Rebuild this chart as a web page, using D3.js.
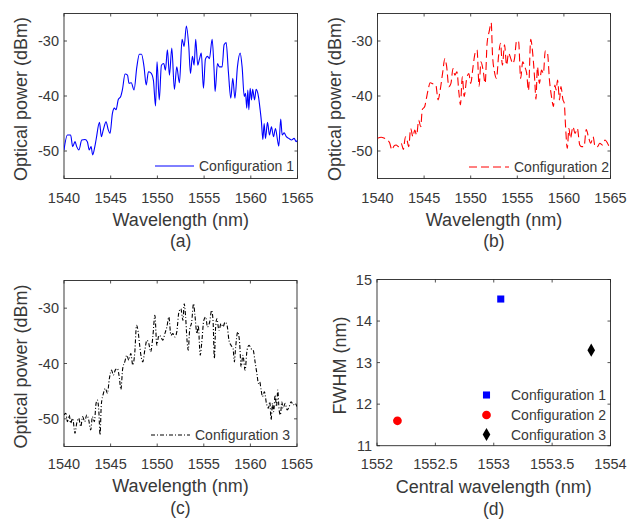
<!DOCTYPE html>
<html>
<head>
<meta charset="utf-8">
<script src="https://cdn.jsdelivr.net/npm/d3@7"></script>
<style>
  body { margin: 0; background: #fff; }
  svg { display: block; font-family: "Liberation Sans", Arial, sans-serif; }
  .lbl { fill: #383838; }
</style>
</head>
<body>
<svg width="628" height="519"></svg>
<script>
// spectra (wavelength nm, power dBm)
const spec1Wl = [1540.0,1540.36,1540.71,1540.93,1541.18,1541.36,1541.6,1541.9,1542.25,1542.5,1542.7,1542.9,1543.07,1543.3,1543.43,1543.8,1544.0,1544.2,1544.5,1544.75,1544.93,1545.18,1545.4,1545.57,1545.82,1546.07,1546.25,1546.54,1546.8,1546.96,1547.2,1547.5,1547.8,1548.07,1548.3,1548.57,1548.8,1549.04,1549.3,1549.57,1549.8,1549.96,1550.2,1550.43,1550.68,1550.86,1551.07,1551.29,1551.54,1551.82,1552.07,1552.36,1552.64,1552.86,1553.1,1553.36,1553.54,1553.75,1553.93,1554.1,1554.32,1554.5,1554.7,1554.93,1555.14,1555.36,1555.57,1555.86,1556.07,1556.18,1556.43,1556.64,1556.93,1557.14,1557.36,1557.6,1557.86,1558.07,1558.3,1558.57,1558.86,1559.07,1559.3,1559.43,1559.57,1559.68,1559.79,1559.93,1560.07,1560.2,1560.4,1560.57,1560.82,1561.0,1561.14,1561.29,1561.43,1561.57,1561.79,1562.0,1562.21,1562.43,1562.64,1562.86,1563.0,1563.2,1563.36,1563.57,1563.8,1564.07,1564.36,1564.64,1564.86,1565.0];
const spec1Power = [-49.8,-47.1,-47.1,-49.2,-48.3,-49.2,-49.8,-48.0,-47.9,-48.3,-49.8,-49.2,-50.7,-49.2,-48.0,-44.8,-47.4,-46.2,-44.7,-46.2,-46.8,-43.2,-42.2,-42.5,-40.6,-40.1,-38.9,-36.0,-36.2,-37.7,-37.6,-38.9,-34.7,-32.4,-32.4,-34.7,-38.0,-35.6,-35.8,-37.1,-41.8,-33.8,-40.7,-34.4,-34.1,-35.3,-31.6,-36.2,-31.3,-38.8,-34.7,-37.6,-29.7,-31.0,-27.3,-31.0,-35.9,-32.8,-34.4,-29.7,-34.4,-33.3,-32.2,-38.6,-33.3,-32.8,-33.2,-29.7,-35.3,-39.2,-34.1,-34.7,-34.7,-30.7,-30.3,-35.6,-40.4,-36.8,-40.4,-34.7,-32.2,-34.7,-40.1,-39.5,-42.2,-38.9,-42.5,-38.6,-40.7,-38.8,-40.7,-38.8,-40.1,-42.5,-44.7,-47.9,-45.0,-47.7,-44.8,-47.1,-45.6,-47.4,-45.9,-48.0,-49.1,-44.2,-47.1,-46.7,-47.4,-47.7,-48.0,-47.7,-48.3,-48.0];

const spec2Wl = [1540.0,1540.4,1540.76,1541.0,1541.3,1541.55,1541.76,1542.0,1542.27,1542.55,1542.77,1543.0,1543.17,1543.35,1543.56,1543.8,1544.0,1544.2,1544.42,1544.64,1544.8,1545.07,1545.25,1545.43,1545.65,1545.97,1546.26,1546.5,1546.73,1546.98,1547.23,1547.4,1547.66,1547.88,1548.1,1548.3,1548.52,1548.74,1548.9,1549.1,1549.3,1549.57,1549.8,1550.0,1550.25,1550.47,1550.68,1550.9,1551.1,1551.33,1551.55,1551.76,1551.98,1552.2,1552.34,1552.55,1552.77,1553.0,1553.2,1553.4,1553.63,1553.85,1554.06,1554.3,1554.5,1554.7,1554.93,1555.14,1555.36,1555.58,1555.8,1556.0,1556.2,1556.44,1556.65,1556.87,1557.0,1557.16,1557.37,1557.6,1557.8,1558.0,1558.24,1558.45,1558.67,1558.88,1559.03,1559.17,1559.32,1559.53,1559.68,1559.9,1560.04,1560.18,1560.36,1560.54,1560.7,1560.97,1561.2,1561.44,1561.7,1561.9,1562.16,1562.4,1562.63,1562.88,1563.13,1563.35,1563.6,1563.85,1564.14,1564.42,1564.68,1564.86,1565.0];
const spec2Power = [-47.7,-47.5,-47.7,-47.9,-48.5,-49.8,-49.1,-48.9,-49.2,-48.6,-49.7,-47.4,-48.0,-49.2,-45.9,-47.4,-46.2,-47.1,-44.4,-45.6,-42.5,-41.9,-40.4,-38.9,-37.6,-37.8,-38.0,-40.7,-38.9,-35.9,-33.2,-34.4,-38.3,-37.7,-35.0,-36.2,-35.6,-39.5,-41.6,-36.5,-40.1,-36.8,-35.9,-37.7,-34.7,-32.2,-31.6,-38.2,-33.8,-35.3,-37.7,-30.4,-28.3,-26.7,-32.5,-35.6,-36.8,-32.5,-30.4,-34.4,-30.7,-34.4,-32.2,-33.2,-34.1,-33.2,-29.9,-30.1,-36.8,-33.8,-34.7,-35.8,-39.0,-29.7,-32.2,-37.1,-40.6,-34.7,-37.7,-35.3,-35.9,-31.8,-32.2,-37.1,-40.1,-41.9,-38.0,-38.9,-37.1,-40.7,-38.3,-40.7,-41.3,-45.6,-49.5,-45.9,-47.7,-45.6,-46.8,-45.9,-48.9,-49.2,-49.2,-46.1,-47.4,-48.6,-47.4,-49.2,-49.2,-48.6,-48.9,-48.0,-48.6,-49.2,-49.5];

const spec3Wl = [1540.0,1540.2,1540.36,1540.57,1540.7,1540.93,1541.18,1541.36,1541.58,1541.8,1542.0,1542.22,1542.44,1542.65,1542.87,1543.05,1543.26,1543.44,1543.58,1543.73,1543.87,1544.0,1544.23,1544.44,1544.66,1544.87,1545.1,1545.3,1545.5,1545.73,1545.95,1546.1,1546.3,1546.52,1546.74,1546.95,1547.17,1547.38,1547.6,1547.78,1547.96,1548.1,1548.28,1548.46,1548.67,1548.9,1549.1,1549.3,1549.53,1549.75,1549.96,1550.18,1550.4,1550.6,1550.82,1551.04,1551.25,1551.47,1551.68,1551.9,1552.1,1552.33,1552.54,1552.76,1552.9,1553.05,1553.2,1553.33,1553.48,1553.7,1553.9,1554.05,1554.26,1554.4,1554.62,1554.77,1555.0,1555.2,1555.4,1555.63,1555.84,1556.0,1556.13,1556.27,1556.4,1556.63,1556.85,1557.06,1557.28,1557.5,1557.7,1557.92,1558.14,1558.28,1558.42,1558.64,1558.85,1559.0,1559.2,1559.43,1559.64,1559.86,1560.07,1560.3,1560.5,1560.72,1560.86,1561.0,1561.15,1561.3,1561.5,1561.72,1561.93,1562.08,1562.22,1562.37,1562.5,1562.65,1562.8,1562.94,1563.08,1563.22,1563.37,1563.5,1563.73,1563.94,1564.16,1564.37,1564.6,1564.8,1565.0];
const spec3Power = [-49.3,-49.0,-50.5,-49.3,-50.8,-49.9,-52.6,-50.8,-49.9,-51.4,-49.6,-50.5,-49.3,-50.2,-52.0,-49.6,-50.5,-47.2,-46.6,-48.4,-52.9,-47.5,-45.4,-44.5,-45.4,-42.7,-41.2,-42.1,-41.2,-40.9,-42.7,-44.7,-40.9,-39.7,-38.5,-39.4,-38.2,-40.3,-37.9,-33.1,-34.3,-36.4,-38.8,-39.7,-37.6,-35.8,-36.4,-37.9,-35.2,-31.3,-36.7,-34.9,-35.2,-35.8,-34.6,-33.4,-31.6,-34.9,-34.6,-35.2,-34.3,-30.7,-30.1,-32.2,-29.2,-31.6,-35.8,-37.6,-34.0,-32.5,-29.2,-31.3,-34.6,-33.1,-38.5,-36.4,-32.2,-31.6,-33.4,-32.5,-30.4,-32.5,-39.1,-33.4,-31.9,-34.0,-32.8,-33.4,-32.5,-33.1,-35.8,-36.7,-37.3,-39.7,-37.0,-34.3,-36.4,-40.6,-38.5,-41.2,-37.6,-36.7,-37.3,-37.6,-39.7,-42.1,-43.6,-43.3,-44.8,-46.0,-45.1,-47.2,-48.1,-46.9,-50.2,-47.2,-48.7,-45.7,-47.8,-44.8,-48.4,-49.3,-46.9,-48.1,-47.2,-48.4,-47.8,-46.9,-47.5,-47.2,-47.8];

// panel (d): central wavelength vs FWHM
const configNames = ["Configuration 1", "Configuration 2", "Configuration 3"];
const centralWl = [1553.06, 1552.175, 1553.835];
const fwhm = [14.53, 11.6, 13.3];

const wlTicks = [1540, 1545, 1550, 1555, 1560, 1565];
const powerTicks = [-50, -40, -30];
const cwTicks = [1552, 1552.5, 1553, 1553.5, 1554];
const fwhmTicks = [11, 12, 13, 14, 15];

const svg = d3.select("svg");
const ink = "#262626";

function frame(p) {
  const g = svg.append("g");
  const x = d3.scaleLinear().domain(p.xDomain).range([p.left, p.right]);
  const y = d3.scaleLinear().domain(p.yDomain).range([p.bottom, p.top]);

  g.append("rect")
    .attr("x", p.left).attr("y", p.top)
    .attr("width", p.right - p.left).attr("height", p.bottom - p.top)
    .attr("fill", "none").attr("stroke", ink).attr("stroke-width", 0.9);

  // inward ticks on all four sides
  p.xTicks.forEach(t => {
    g.append("line").attr("x1", x(t)).attr("x2", x(t)).attr("y1", p.bottom).attr("y2", p.bottom - 3)
      .attr("stroke", ink).attr("stroke-width", 0.8);
    g.append("line").attr("x1", x(t)).attr("x2", x(t)).attr("y1", p.top).attr("y2", p.top + 3)
      .attr("stroke", ink).attr("stroke-width", 0.8);
    g.append("text").attr("class", "lbl").attr("x", x(t)).attr("y", p.xTickY)
      .attr("text-anchor", "middle").attr("font-size", 14.5).text(t);
  });
  p.yTicks.forEach(t => {
    g.append("line").attr("x1", p.left).attr("x2", p.left + 3).attr("y1", y(t)).attr("y2", y(t))
      .attr("stroke", ink).attr("stroke-width", 0.8);
    g.append("line").attr("x1", p.right).attr("x2", p.right - 3).attr("y1", y(t)).attr("y2", y(t))
      .attr("stroke", ink).attr("stroke-width", 0.8);
    g.append("text").attr("class", "lbl").attr("x", p.left - 5).attr("y", y(t)).attr("dy", "0.36em")
      .attr("text-anchor", "end").attr("font-size", 14.5).text(t);
  });

  g.append("text").attr("class", "lbl")
    .attr("x", (p.left + p.right) / 2).attr("y", p.xLabelY)
    .attr("text-anchor", "middle").attr("font-size", 18).text(p.xLabel);
  g.append("text").attr("class", "lbl")
    .attr("transform", `translate(${p.yLabelX},${(p.top + p.bottom) / 2 + 3}) rotate(-90)`)
    .attr("text-anchor", "middle").attr("font-size", 18).text(p.yLabel);
  g.append("text").attr("class", "lbl")
    .attr("x", (p.left + p.right) / 2).attr("y", p.capY)
    .attr("text-anchor", "middle").attr("font-size", 17.5).text(p.caption);

  return { g, x, y };
}

const spectra = [
  { wl: spec1Wl, pw: spec1Power, color: "#0000ff", dash: null, name: "Configuration 1",
    left: 64, right: 297.5, top: 13.5, bottom: 178.5, xTickY: 203, xLabelY: 226, capY: 247, yLabelX: 27,
    caption: "(a)", legX: 155, legY: 166, legW: 39 },
  { wl: spec2Wl, pw: spec2Power, color: "#ff0000", dash: "8,4", name: "Configuration 2",
    left: 377.5, right: 610.5, top: 13.5, bottom: 178.5, xTickY: 203, xLabelY: 226, capY: 247, yLabelX: 341,
    caption: "(b)", legX: 469, legY: 167, legW: 40 },
  { wl: spec3Wl, pw: spec3Power, color: "#000000", dash: "4,2,1,2", name: "Configuration 3",
    left: 64, right: 297, top: 280.5, bottom: 446.5, xTickY: 469, xLabelY: 492, capY: 514, yLabelX: 27,
    caption: "(c)", legX: 151, legY: 435, legW: 39 }
];

spectra.forEach((s, i) => {
  const p = Object.assign({}, s, {
    xDomain: [1540, 1565], yDomain: [-55, -25], xTicks: wlTicks, yTicks: powerTicks,
    xLabel: "Wavelength (nm)", yLabel: "Optical power (dBm)"
  });
  const { g, x, y } = frame(p);

  const clipId = "clip" + i;
  svg.append("clipPath").attr("id", clipId).append("rect")
    .attr("x", p.left).attr("y", p.top).attr("width", p.right - p.left).attr("height", p.bottom - p.top);

  const pts = s.wl.map((w, k) => [w, s.pw[k]]);
  const line = d3.line().x(d => x(d[0])).y(d => y(d[1])).curve(d3.curveMonotoneX);
  g.append("path").datum(pts)
    .attr("clip-path", `url(#${clipId})`)
    .attr("d", line)
    .attr("fill", "none").attr("stroke", s.color).attr("stroke-width", 1.1)
    .attr("stroke-dasharray", s.dash);

  // legend (no box)
  g.append("line").attr("x1", s.legX).attr("x2", s.legX + s.legW).attr("y1", s.legY).attr("y2", s.legY)
    .attr("stroke", s.color).attr("stroke-width", 1).attr("stroke-dasharray", s.dash);
  g.append("text").attr("class", "lbl").attr("x", s.legX + s.legW + 5).attr("y", s.legY).attr("dy", "0.36em")
    .attr("font-size", 14).text(s.name);
});

// panel (d)
const pd = {
  left: 377, right: 610.5, top: 279.5, bottom: 445.7,
  xDomain: [1552, 1554], yDomain: [11, 15], xTicks: cwTicks, yTicks: fwhmTicks,
  xTickY: 469, xLabelY: 493, capY: 515, yLabelX: 345.5,
  xLabel: "Central wavelength (nm)", yLabel: "FWHM (nm)", caption: "(d)"
};
const d = frame(pd);
const markerColors = ["#0000ff", "#ff0000", "#000000"];
const symbols = [d3.symbolSquare, d3.symbolCircle, d3.symbolDiamond];
const symbolSizes = [50, 60, 50];

centralWl.forEach((cw, i) => {
  d.g.append("path")
    .attr("transform", `translate(${d.x(cw)},${d.y(fwhm[i])})`)
    .attr("d", d3.symbol().type(symbols[i]).size(symbolSizes[i])())
    .attr("fill", markerColors[i]);
});

const legRows = [395, 415, 434.5];
configNames.forEach((name, i) => {
  d.g.append("path")
    .attr("transform", `translate(486.5,${legRows[i]})`)
    .attr("d", d3.symbol().type(symbols[i]).size(symbolSizes[i])())
    .attr("fill", markerColors[i]);
  d.g.append("text").attr("class", "lbl").attr("x", 511).attr("y", legRows[i]).attr("dy", "0.36em")
    .attr("font-size", 14).text(name);
});
</script>
</body>
</html>
